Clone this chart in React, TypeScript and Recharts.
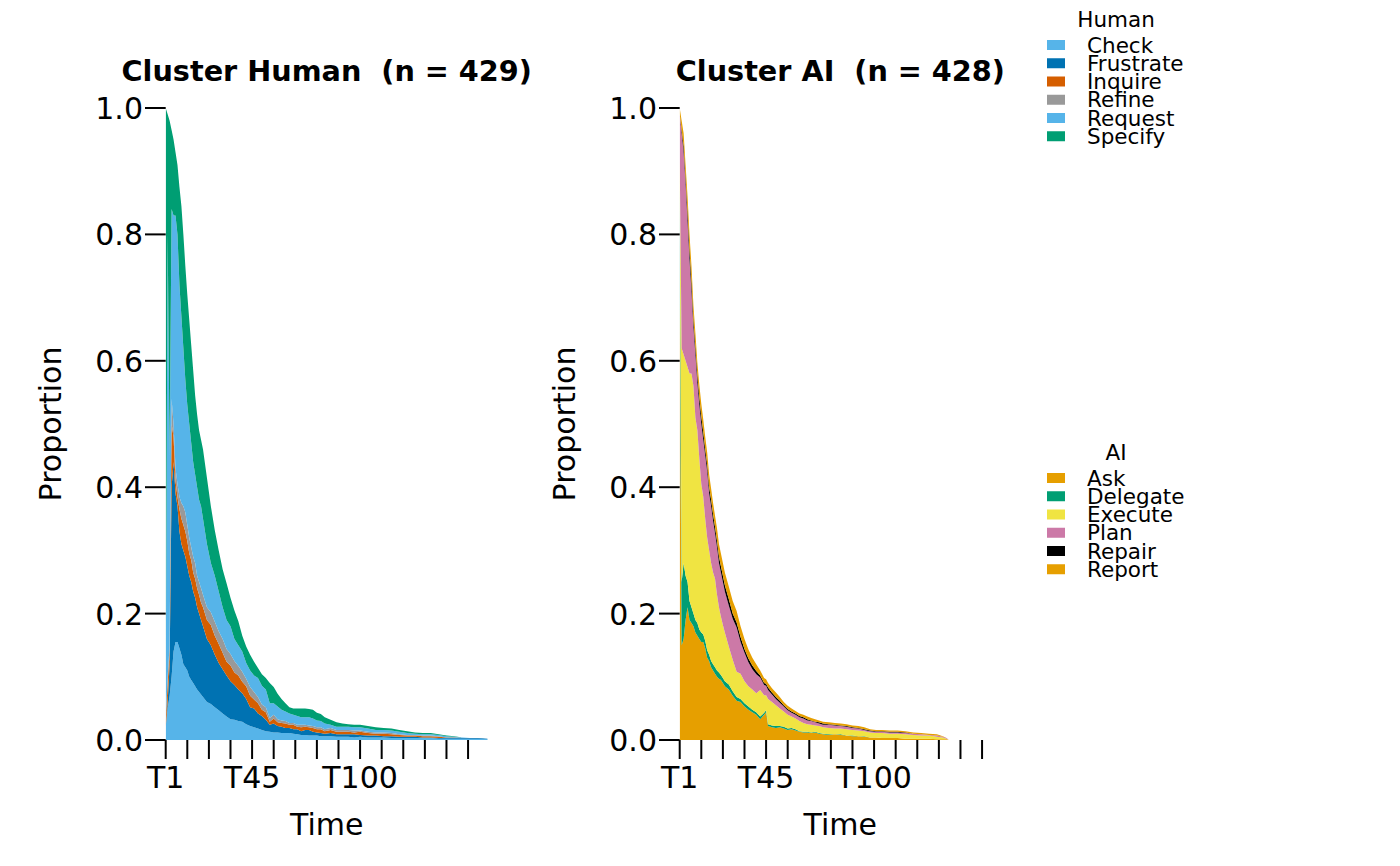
import React from 'react';
import { AreaChart, Area, XAxis, YAxis } from 'recharts';

// ---------- tick labels ----------
const X_TICKS = [1, 12, 23, 34, 45, 56, 67, 78, 89, 100, 111, 122, 133, 144, 155];
const X_TICK_LABELS = [1, 45, 100];
const Y_TICKS = [0, 0.2, 0.4, 0.6, 0.8, 1];

// ---------- Cluster Human ----------
const HUMAN_STATES = ['Check', 'Frustrate', 'Inquire', 'Refine', 'Request', 'Specify'];
const HUMAN_COLORS = ['#56B4E9', '#0072B2', '#D55E00', '#999999', '#56B4E9', '#009E73'];
const HUMAN_TIME = [
  1, 2, 3, 4, 5, 6, 7, 8, 9, 10,
  11, 12, 13, 14, 15, 16, 17, 18, 19, 20,
  22, 24, 26, 28, 30, 32, 34, 36, 38, 40,
  42, 44, 46, 48, 50, 52, 54, 56, 58, 60,
  62, 64, 66, 68, 70, 72, 74, 76, 78, 80,
  82, 85, 88, 91, 94, 97, 100, 104, 108, 112,
  116, 120, 124, 128, 132, 136, 140, 144, 148, 152,
  156, 160, 165,
];
const HUMAN_CHECK = [
  .02, .05, .07, .10, .14, .155, .155, .145, .135, .12,
  .115, .11, .10, .095, .09, .085, .08, .076, .072, .068,
  .06, .057, .052, .047, .042, .037, .033, .032, .03, .029,
  .025, .022, .02, .018, .016, .014, .013, .012, .012, .011,
  .011, .011, .01, .009, .008, .008, .007, .007, .007, .006,
  .006, .006, .005, .005, .005, .004, .005, .004, .004, .004,
  .003, .003, .003, .003, .003, .003, .002, .002, .002, .002,
  .002, .002, .001,
];
const HUMAN_FRUSTRATE = [
  0, .01, .05, .30, .30, .235, .215, .185, .175, .18,
  .175, .165, .16, .155, .145, .14, .13, .124, .118, .112,
  .10, .093, .083, .075, .07, .065, .06, .055, .05, .045,
  .04, .03, .03, .024, .022, .018, .011, .014, .01, .01,
  .008, .008, .007, .008, .006, .008, .009, .006, .005, .005,
  .004, .005, .004, .004, .004, .005, .003, .003, .003, .002,
  .003, .002, .002, .002, .001, .001, .001, .001, .001, .001,
  .001, .001, .001,
];
const HUMAN_INQUIRE = [
  .01, .03, .02, .10, .04, .02, .015, .035, .04, .04,
  .04, .04, .035, .035, .03, .03, .03, .03, .027, .03,
  .03, .032, .03, .03, .026, .022, .025, .02, .022, .018,
  .02, .018, .014, .016, .01, .012, .005, .008, .006, .006,
  .007, .005, .007, .004, .006, .005, .004, .006, .005, .006,
  .004, .005, .004, .004, .004, .003, .005, .004, .003, .004,
  .003, .003, .002, .002, .002, .002, .002, .001, .001, 0,
  0, 0, 0,
];
const HUMAN_REFINE = [
  0, .01, .01, .04, .02, .02, .02, .02, .025, .03,
  .03, .025, .025, .02, .025, .025, .02, .02, .023, .02,
  .02, .02, .022, .02, .022, .02, .018, .018, .015, .016,
  .012, .014, .012, .01, .008, .008, .006, .006, .005, .004,
  .004, .003, .003, .003, .004, .003, .003, .003, .003, .003,
  .003, .003, .003, .003, .003, .003, .002, .002, .002, .002,
  .002, .001, .001, .001, .001, .001, .001, 0, 0, 0,
  0, 0, 0,
];
const HUMAN_REQUEST = [
  .05, .70, .30, .30, .33, .40, .395, .335, .295, .25,
  .21, .19, .18, .165, .15, .14, .14, .13, .13, .12,
  .10, .078, .073, .063, .05, .046, .044, .035, .033, .032,
  .025, .026, .026, .03, .03, .028, .023, .018, .02, .017,
  .015, .015, .013, .014, .012, .012, .013, .012, .011, .01,
  .009, .005, .005, .005, .005, .005, .005, .005, .004, .004,
  .004, .004, .003, .002, .002, .002, .002, .002, .001, .001,
  0, 0, 0,
];
const HUMAN_SPECIFY = [
  .92, .19, .53, .125, .12, .10, .11, .155, .175, .18,
  .18, .175, .165, .155, .145, .125, .115, .11, .105, .11,
  .105, .09, .072, .065, .06, .058, .045, .045, .038, .025,
  .026, .025, .022, .016, .018, .018, .032, .026, .02, .017,
  .013, .01, .01, .012, .014, .014, .013, .014, .012, .011,
  .01, .008, .007, .005, .004, .004, .004, .004, .004, .003,
  .003, .003, .003, .002, .002, .002, .001, .001, .001, 0,
  0, 0, 0,
];

// ---------- Cluster AI ----------
const AI_STATES = ['Ask', 'Delegate', 'Execute', 'Plan', 'Repair', 'Report'];
const AI_COLORS = ['#E69F00', '#009E73', '#F0E442', '#CC79A7', '#000000', '#E69F00'];
const AI_TIME = [
  1, 2, 3, 4, 5, 6, 7, 8, 9, 10,
  11, 12, 13, 14, 15, 16, 17, 18, 19, 20,
  21, 22, 23, 24, 26, 28, 30, 32, 34, 36,
  38, 40, 42, 44, 45, 46, 48, 50, 52, 54,
  56, 58, 60, 62, 64, 66, 68, 70, 72, 74,
  77, 80, 83, 86, 89, 92, 95, 98, 101, 104,
  108, 112, 116, 120, 124, 128, 132, 135, 137, 138,
];
const AI_ASK = [
  .70, .15, .16, .19, .21, .19, .185, .18, .17, .165,
  .16, .155, .155, .145, .13, .125, .115, .11, .105, .10,
  .097, .095, .09, .085, .08, .07, .062, .06, .053, .048,
  .044, .04, .033, .04, .044, .022, .02, .019, .02, .018,
  .016, .017, .015, .013, .012, .012, .011, .012, .01, .009,
  .008, .009, .008, .007, .006, .006, .005, .004, .004, .003,
  .003, .003, .002, .002, .002, .002, .001, .001, .001, 0,
];
const AI_DELEGATE = [
  .18, .10, .12, .07, .04, .03, .025, .02, .02, .02,
  .015, .015, .012, .012, .012, .01, .01, .01, .01, .01,
  .01, .008, .008, .008, .008, .007, .006, .005, .005, .005,
  .004, .004, .004, .003, .003, .003, .003, .003, .002, .003,
  .002, .002, .002, .001, .001, .001, .001, .001, .001, .001,
  .001, 0, .001, 0, .001, 0, .001, 0, 0, 0,
  0, 0, 0, 0, 0, 0, 0, 0, 0, 0,
];
const AI_EXECUTE = [
  .04, .37, .33, .34, .34, .36, .37, .36, .32, .305,
  .27, .235, .218, .193, .178, .165, .155, .145, .14, .12,
  .103, .092, .084, .077, .06, .05, .04, .04, .035, .032,
  .032, .03, .042, .028, .024, .04, .037, .033, .028, .024,
  .022, .018, .017, .016, .014, .012, .012, .01, .011, .01,
  .01, .009, .009, .01, .009, .009, .008, .008, .007, .008,
  .007, .007, .007, .006, .005, .005, .004, .003, .001, 0,
];
const AI_PLAN = [
  .07, .34, .32, .28, .23, .18, .13, .093, .10, .075,
  .085, .095, .09, .10, .105, .09, .09, .082, .072, .075,
  .07, .07, .068, .065, .065, .065, .07, .05, .045, .038,
  .032, .03, .02, .016, .015, .014, .012, .01, .009, .008,
  .007, .006, .006, .006, .007, .006, .006, .005, .004, .004,
  .005, .005, .004, .004, .003, .003, .002, .002, .002, .002,
  .002, .002, .002, .002, .002, .001, .002, .001, .001, 0,
];
const AI_REPAIR = [
  0, .005, .01, .01, .015, .015, .015, .012, .012, .012,
  .012, .012, .012, .01, .01, .01, .01, .01, .01, .01,
  .01, .01, .01, .01, .01, .008, .008, .008, .006, .006,
  .006, .005, .003, .003, .003, .004, .003, .003, .003, .002,
  .002, .002, .002, .002, .002, .002, .001, .001, .002, .002,
  .001, .001, .001, .001, .001, .001, .001, .001, .001, .001,
  .001, .001, .001, 0, 0, 0, 0, 0, 0, 0,
];
const AI_REPORT = [
  .01, .015, .02, .02, .025, .025, .025, .022, .022, .02,
  .02, .02, .02, .02, .02, .02, .018, .018, .018, .02,
  .02, .02, .02, .02, .02, .02, .018, .017, .016, .014,
  .012, .011, .008, .008, .007, .007, .007, .007, .006, .005,
  .005, .005, .004, .004, .004, .004, .004, .004, .003, .003,
  .003, .003, .003, .003, .003, .003, .003, .002, .002, .002,
  .002, .002, .002, .002, .002, .002, .002, .001, 0, 0,
];

const FONT = 'DejaVu Sans';

function buildRows(times: number[], series: number[][]) {
  return times.map((t, i) => {
    const row: Record<string, number> = { t };
    series.forEach((s, k) => {
      row['s' + k] = s[i];
    });
    return row;
  });
}

const humanRows = buildRows(HUMAN_TIME, [
  HUMAN_CHECK, HUMAN_FRUSTRATE, HUMAN_INQUIRE, HUMAN_REFINE, HUMAN_REQUEST, HUMAN_SPECIFY,
]);
const aiRows = buildRows(AI_TIME, [AI_ASK, AI_DELEGATE, AI_EXECUTE, AI_PLAN, AI_REPAIR, AI_REPORT]);

const XTick = (props: any) => {
  const { x, y, payload } = props;
  if (!X_TICK_LABELS.includes(payload.value)) return <g />;
  return (
    <text x={x} y={y + 27} textAnchor="middle" fontSize={30} fontFamily={FONT} fill="#000">
      {'T' + payload.value}
    </text>
  );
};

const YTick = (props: any) => {
  const { x, y, payload } = props;
  return (
    <text x={x} y={y + 11} textAnchor="end" fontSize={30} fontFamily={FONT} fill="#000">
      {Number(payload.value).toFixed(1)}
    </text>
  );
};

const PLOT_LEFT = 165.7;
const PLOT_RIGHT = 487.7;
const CHART_W = 540;

function Panel({ left, rows, colors }: { left: number; rows: any[]; colors: string[] }) {
  return (
    <div style={{ position: 'absolute', left, top: 0 }}>
      <AreaChart
        width={CHART_W}
        height={866}
        data={rows}
        margin={{ top: 108, right: CHART_W - PLOT_RIGHT, bottom: 0, left: 0 }}
      >
        <XAxis
          dataKey="t"
          type="number"
          domain={[1, 165]}
          allowDataOverflow
          ticks={X_TICKS}
          interval={0}
          axisLine={false}
          tickSize={19}
          tickLine={{ stroke: '#000', strokeWidth: 2 }}
          tick={XTick}
          height={126}
        />
        <YAxis
          type="number"
          domain={[0, 1]}
          ticks={Y_TICKS}
          interval={0}
          axisLine={false}
          tickSize={20.7}
          tickLine={{ stroke: '#000', strokeWidth: 2 }}
          tick={YTick}
          width={PLOT_LEFT}
        />
        {colors.map((c, k) => (
          <Area
            key={k}
            type="linear"
            dataKey={'s' + k}
            stackId="a"
            stroke="none"
            fill={c}
            fillOpacity={1}
            isAnimationActive={false}
            dot={false}
            activeDot={false}
          />
        ))}
      </AreaChart>
    </div>
  );
}

function LegendBlock({ title, titleY, firstY, states, colors }: any) {
  return (
    <g>
      <text x={1116} y={titleY} textAnchor="middle" fontSize={21.5} fontFamily={FONT} fill="#000">
        {title}
      </text>
      {states.map((s: string, i: number) => {
        const cy = firstY + i * 18.25;
        return (
          <g key={s}>
            <rect x={1047} y={cy - 5} width={18} height={10} fill={colors[i]} />
            <text x={1087} y={cy + 7.5} fontSize={21.5} fontFamily={FONT} fill="#000">
              {s}
            </text>
          </g>
        );
      })}
    </g>
  );
}

export default function App() {
  const p2 = 679.3 - PLOT_LEFT;
  const c1 = (PLOT_LEFT + PLOT_RIGHT) / 2;
  const c2 = c1 + p2;
  return (
    <div style={{ position: 'absolute', left: 0, top: 0, width: 1400, height: 866, background: '#fff' }}>
      <Panel left={0} rows={humanRows} colors={HUMAN_COLORS} />
      <Panel left={p2} rows={aiRows} colors={AI_COLORS} />
      <svg
        width={1400}
        height={866}
        style={{ position: 'absolute', left: 0, top: 0, pointerEvents: 'none' }}
      >
        <text x={c1} y={81} textAnchor="middle" fontSize={28.7} fontWeight="bold" fontFamily={FONT} style={{ whiteSpace: 'pre' }}>
          {'Cluster Human  (n = 429)'}
        </text>
        <text x={c2} y={81} textAnchor="middle" fontSize={28.7} fontWeight="bold" fontFamily={FONT} style={{ whiteSpace: 'pre' }}>
          {'Cluster AI  (n = 428)'}
        </text>
        <text x={c1} y={835} textAnchor="middle" fontSize={30} fontFamily={FONT}>Time</text>
        <text x={c2} y={835} textAnchor="middle" fontSize={30} fontFamily={FONT}>Time</text>
        <text transform="translate(61,424) rotate(-90)" textAnchor="middle" fontSize={30} fontFamily={FONT}>Proportion</text>
        <text transform={`translate(${61 + p2},424) rotate(-90)`} textAnchor="middle" fontSize={30} fontFamily={FONT}>Proportion</text>
        <LegendBlock title="Human" titleY={27} firstY={45} states={HUMAN_STATES} colors={HUMAN_COLORS} />
        <LegendBlock title="AI" titleY={460} firstY={478} states={AI_STATES} colors={AI_COLORS} />
      </svg>
    </div>
  );
}
